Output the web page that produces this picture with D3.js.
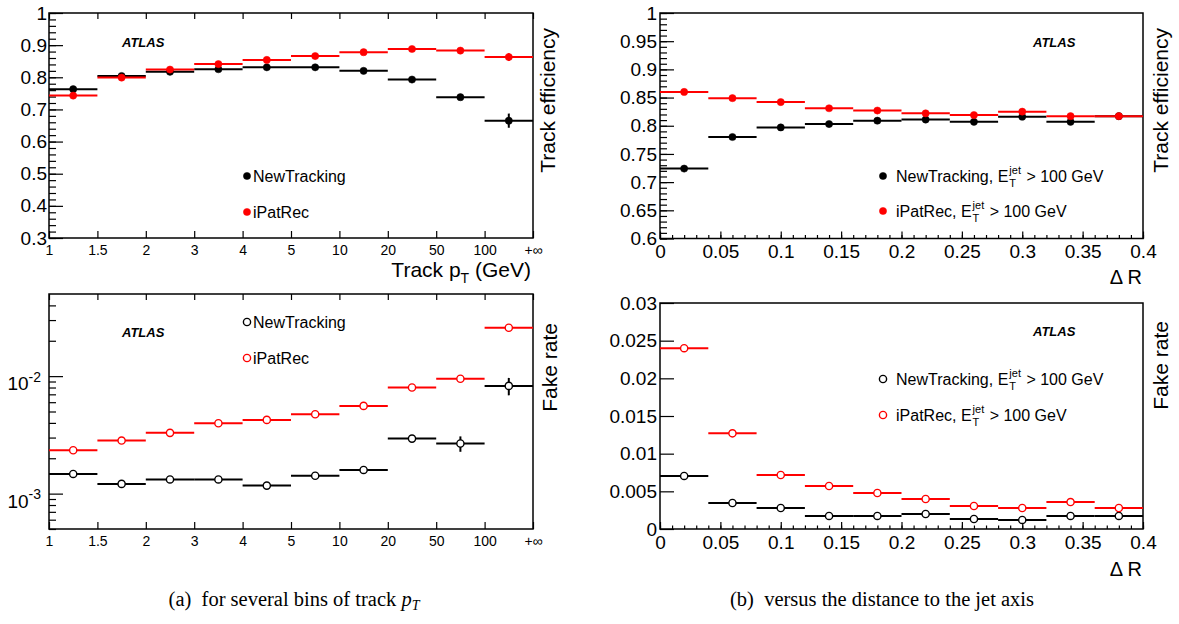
<!DOCTYPE html>
<html><head><meta charset="utf-8">
<script src="https://cdn.jsdelivr.net/npm/d3@7"></script>
<style>
body{margin:0;background:#fff}
svg{display:block}
text{font-family:"Liberation Sans",Arial,Helvetica,sans-serif;fill:#000;white-space:pre}
</style>
</head><body>
<svg id="c" width="1179" height="624"></svg>
<script>
// ---------------- data ----------------
const ptBinEdges = ["1","1.5","2","3","4","5","10","20","50","100","+\u221e"];
const effNewTracking    = [0.763,0.804,0.817,0.825,0.831,0.831,0.820,0.793,0.738,0.665];
const effNewTrackingErr = [0,0,0,0,0,0,0,0,0,0.022];
const effIPatRec        = [0.743,0.799,0.824,0.841,0.854,0.866,0.878,0.888,0.883,0.863];
const effIPatRecErr     = [0,0,0,0,0,0,0,0,0,0.012];
const fakeNewTracking    = [1.47e-3,1.21e-3,1.32e-3,1.32e-3,1.17e-3,1.42e-3,1.59e-3,2.94e-3,2.67e-3,8.26e-3];
const fakeNewTrackingErr = [0,0,0,0,0,0,0,0,0.4e-3,1.4e-3];
const fakeIPatRec        = [2.34e-3,2.83e-3,3.29e-3,3.97e-3,4.24e-3,4.74e-3,5.58e-3,8.0e-3,9.5e-3,2.58e-2];
const fakeIPatRecErr     = [0,0,0,0,0,0,0,0,0,0];

const drBinEdges = [0,0.04,0.08,0.12,0.16,0.2,0.24,0.28,0.32,0.36,0.4];
const drEffNewTracking = [0.724,0.780,0.797,0.803,0.809,0.811,0.807,0.816,0.807,0.817];
const drEffIPatRec     = [0.860,0.849,0.842,0.831,0.827,0.822,0.819,0.825,0.817,0.817];
const drFakeNewTracking = [0.00704,0.00345,0.00279,0.00173,0.00173,0.00199,0.00133,0.00120,0.00173,0.00173];
const drFakeIPatRec     = [0.0240,0.0127,0.00717,0.00571,0.00478,0.00398,0.00305,0.00279,0.00358,0.00279];
const zeros = [0,0,0,0,0,0,0,0,0,0];

const effPtYTicks   = [0.3,0.4,0.5,0.6,0.7,0.8,0.9,1];
const effDrYTicks   = [0.6,0.65,0.7,0.75,0.8,0.85,0.9,0.95,1];
const fakeDrYTicks  = [0,0.005,0.01,0.015,0.02,0.025,0.03];
const fakeLogTicks  = [1e-3,1e-2];
const fakeLogExps   = ["-3","-2"];
const drXTicks      = [0,0.05,0.1,0.15,0.2,0.25,0.3,0.35,0.4];

const seriesNames = ["NewTracking","iPatRec"];
const jetCut = " > 100 GeV";
const captionA = "(a)  for several bins of track ";
const captionB = "(b)  versus the distance to the jet axis";

// ---------------- drawing ----------------
const svg = d3.select("#c");
svg.append("rect").attr("width",1179).attr("height",624).attr("fill","#fff");
const BLACK="#000", RED="#ff0000";

function frame(p){
  svg.append("rect").attr("x",p.x0).attr("y",p.y0).attr("width",p.x1-p.x0).attr("height",p.y1-p.y0)
     .attr("fill","none").attr("stroke","#000").attr("stroke-width",1.5);
}
function styleAxis(a, fs){
  a.select(".domain").remove();
  a.attr("font-family",null).attr("font-size",null);
  a.selectAll("line").attr("stroke","#000").attr("stroke-width",1.2);
  a.selectAll("text").style("font-size",fs+"px");
}
function yAxis(p, scale, major, minor, fmt, pad){
  svg.append("g").attr("transform",`translate(${p.x0},0)`)
    .call(d3.axisLeft(scale).tickValues(minor).tickSize(-7).tickFormat(""))
    .call(a=>styleAxis(a,19));
  svg.append("g").attr("transform",`translate(${p.x0},0)`)
    .call(d3.axisLeft(scale).tickValues(major).tickSize(-14).tickPadding(pad).tickFormat(fmt))
    .call(a=>styleAxis(a,19));
}
function drawSeries(g, x, y, edges, vals, errs, color, filled){
  vals.forEach((v,i)=>{
    const xa=x(edges[i]), xb=x(edges[i+1]), xc=(xa+xb)/2;
    g.append("line").attr("x1",xa).attr("x2",xb).attr("y1",y(v)).attr("y2",y(v))
      .attr("stroke",color).attr("stroke-width",2);
    if(errs[i]>0){
      g.append("line").attr("x1",xc).attr("x2",xc).attr("y1",y(v-errs[i])).attr("y2",y(v+errs[i]))
        .attr("stroke",color).attr("stroke-width",2);
    }
    g.append("circle").attr("cx",xc).attr("cy",y(v)).attr("r",3.6)
      .attr("fill",filled?color:"#fff").attr("stroke",color).attr("stroke-width",filled?0.5:1.4);
  });
}
function atlas(x,y){
  svg.append("text").attr("x",x).attr("y",y).attr("font-size",13).attr("font-weight","bold")
    .attr("font-style","italic").text("ATLAS");
}
function yTitle(x,yTop,str){
  svg.append("text").attr("transform",`translate(${x},${yTop}) rotate(-90)`).attr("text-anchor","end")
    .attr("font-size",21).text(str);
}
function legendSimple(x,y,label,color,filled){
  svg.append("circle").attr("cx",x).attr("cy",y).attr("r",3.6).attr("fill",filled?color:"#fff")
    .attr("stroke",color).attr("stroke-width",filled?0.5:1.4);
  svg.append("text").attr("x",x+6).attr("y",y+6).attr("font-size",16).text(label);
}
function legendJet(x,y,label,color,filled){
  svg.append("circle").attr("cx",x).attr("cy",y).attr("r",3.6).attr("fill",filled?color:"#fff")
    .attr("stroke",color).attr("stroke-width",filled?0.5:1.4);
  const t=svg.append("text").attr("x",x+13).attr("y",y+6).attr("font-size",16).text(label+", E");
  const w=t.node().getComputedTextLength();
  const xs=x+13+w+1;
  const j=svg.append("text").attr("x",xs).attr("y",y-2).attr("font-size",11).text("jet");
  svg.append("text").attr("x",xs).attr("y",y+11).attr("font-size",11).text("T");
  const wj=j.node().getComputedTextLength();
  svg.append("text").attr("x",xs+wj+1).attr("y",y+6).attr("font-size",16).text(jetCut);
}

// ---- panel TL: efficiency vs pT ----
const TL={x0:49,x1:533,y0:13,y1:238};
const xPtTL=d3.scaleLinear().domain([0,10]).range([TL.x0,TL.x1]);
const yEff=d3.scaleLinear().domain([0.3,1]).range([TL.y1,TL.y0]);
const binIdx=d3.range(11);
yAxis(TL,yEff,effPtYTicks,d3.range(30,101,2).map(d=>d/100),d=>String(+d.toFixed(1)),2);
svg.append("g").attr("transform",`translate(0,${TL.y1})`)
  .call(d3.axisBottom(xPtTL).tickValues(binIdx).tickSize(-7).tickPadding(7).tickFormat(i=>ptBinEdges[i]))
  .call(a=>styleAxis(a,14));
svg.append("g").attr("transform",`translate(0,${TL.y0})`)
  .call(d3.axisTop(xPtTL).tickValues(binIdx).tickSize(-6).tickFormat(""))
  .call(a=>styleAxis(a,14));
frame(TL);
const gTL=svg.append("g");
drawSeries(gTL,xPtTL,yEff,binIdx,effNewTracking,effNewTrackingErr,BLACK,true);
drawSeries(gTL,xPtTL,yEff,binIdx,effIPatRec,effIPatRecErr,RED,true);
atlas(122,46.5);
legendSimple(247,176,seriesNames[0],BLACK,true);
legendSimple(247,212,seriesNames[1],RED,true);
yTitle(555,28,"Track efficiency");
{
  const t=svg.append("text").attr("x",531).attr("y",276.5).attr("text-anchor","end").attr("font-size",21);
  t.append("tspan").text("Track p");
  t.append("tspan").attr("font-size",14).attr("dy",6).text("T");
  t.append("tspan").attr("dy",-6).text(" (GeV)");
}

// ---- panel BL: fake rate vs pT ----
const BL={x0:49,x1:533,y0:294,y1:529};
const xPtBL=d3.scaleLinear().domain([0,10]).range([BL.x0,BL.x1]);
const yFakeLog=d3.scaleLog().domain([5e-4,5e-2]).range([BL.y1,BL.y0]);
const logMinor=[5e-4,6e-4,7e-4,8e-4,9e-4,2e-3,3e-3,4e-3,5e-3,6e-3,7e-3,8e-3,9e-3,2e-2,3e-2,4e-2];
svg.append("g").attr("transform",`translate(${BL.x0},0)`)
  .call(d3.axisLeft(yFakeLog).tickValues(logMinor).tickSize(-7).tickFormat(""))
  .call(a=>styleAxis(a,19));
svg.append("g").attr("transform",`translate(${BL.x0},0)`)
  .call(d3.axisLeft(yFakeLog).tickValues(fakeLogTicks).tickSize(-14).tickFormat(""))
  .call(a=>styleAxis(a,19));
fakeLogTicks.forEach((v,i)=>{
  const yy=yFakeLog(v);
  const t=svg.append("text").attr("x",41).attr("y",yy+14).attr("text-anchor","end").attr("font-size",19);
  t.append("tspan").text("10");
  t.append("tspan").attr("font-size",14).attr("dy",-8.5).text(fakeLogExps[i]);
});
svg.append("g").attr("transform",`translate(0,${BL.y1})`)
  .call(d3.axisBottom(xPtBL).tickValues(binIdx).tickSize(-7).tickPadding(7).tickFormat(i=>ptBinEdges[i]))
  .call(a=>styleAxis(a,14));
svg.append("g").attr("transform",`translate(0,${BL.y0})`)
  .call(d3.axisTop(xPtBL).tickValues(binIdx).tickSize(-6).tickFormat(""))
  .call(a=>styleAxis(a,14));
frame(BL);
const gBL=svg.append("g");
drawSeries(gBL,xPtBL,yFakeLog,binIdx,fakeNewTracking,fakeNewTrackingErr,BLACK,false);
drawSeries(gBL,xPtBL,yFakeLog,binIdx,fakeIPatRec,fakeIPatRecErr,RED,false);
atlas(122,336.5);
legendSimple(247,322,seriesNames[0],BLACK,false);
legendSimple(247,358,seriesNames[1],RED,false);
yTitle(557,323,"Fake rate");

// ---- panel TR: efficiency vs dR ----
const TR={x0:660,x1:1143,y0:13,y1:238.5};
const xDrTR=d3.scaleLinear().domain([0,0.4]).range([TR.x0,TR.x1]);
const yEffDr=d3.scaleLinear().domain([0.6,1]).range([TR.y1,TR.y0]);
const drMinor=d3.range(0,41).map(d=>d/100);
yAxis(TR,yEffDr,effDrYTicks,d3.range(60,101).map(d=>d/100),d=>String(+d.toFixed(2)),3);
svg.append("g").attr("transform",`translate(0,${TR.y1})`)
  .call(d3.axisBottom(xDrTR).tickValues(drMinor).tickSize(-3.5).tickFormat(""))
  .call(a=>styleAxis(a,19));
svg.append("g").attr("transform",`translate(0,${TR.y1})`)
  .call(d3.axisBottom(xDrTR).tickValues(drXTicks).tickSize(-7).tickPadding(6).tickFormat(d=>String(+d.toFixed(2))))
  .call(a=>styleAxis(a,19));
frame(TR);
const gTR=svg.append("g");
drawSeries(gTR,xDrTR,yEffDr,drBinEdges,drEffNewTracking,zeros,BLACK,true);
drawSeries(gTR,xDrTR,yEffDr,drBinEdges,drEffIPatRec,zeros,RED,true);
atlas(1033,46.5);
legendJet(883,176,seriesNames[0],BLACK,true);
legendJet(883,211,seriesNames[1],RED,true);
yTitle(1168,28,"Track efficiency");
svg.append("text").attr("x",1142).attr("y",284).attr("text-anchor","end").attr("font-size",20).text("\u0394 R");

// ---- panel BR: fake rate vs dR ----
const BR={x0:660,x1:1143,y0:303,y1:529};
const xDrBR=d3.scaleLinear().domain([0,0.4]).range([BR.x0,BR.x1]);
const yFakeDr=d3.scaleLinear().domain([0,0.03]).range([BR.y1,BR.y0]);
svg.append("g").attr("transform",`translate(${BR.x0},0)`)
  .call(d3.axisLeft(yFakeDr).tickValues(fakeDrYTicks).tickSize(-14).tickPadding(3).tickFormat(d=>String(+d.toFixed(3))))
  .call(a=>styleAxis(a,19));
svg.append("g").attr("transform",`translate(0,${BR.y1})`)
  .call(d3.axisBottom(xDrBR).tickValues(drMinor).tickSize(-3.5).tickFormat(""))
  .call(a=>styleAxis(a,19));
svg.append("g").attr("transform",`translate(0,${BR.y1})`)
  .call(d3.axisBottom(xDrBR).tickValues(drXTicks).tickSize(-7).tickPadding(7).tickFormat(d=>String(+d.toFixed(2))))
  .call(a=>styleAxis(a,19));
frame(BR);
const gBR=svg.append("g");
drawSeries(gBR,xDrBR,yFakeDr,drBinEdges,drFakeNewTracking,zeros,BLACK,false);
drawSeries(gBR,xDrBR,yFakeDr,drBinEdges,drFakeIPatRec,zeros,RED,false);
atlas(1033,336);
legendJet(883,379,seriesNames[0],BLACK,false);
legendJet(883,415,seriesNames[1],RED,false);
yTitle(1168,321,"Fake rate");
svg.append("text").attr("x",1142).attr("y",576).attr("text-anchor","end").attr("font-size",20).text("\u0394 R");

// ---- captions ----
{
  const serif="'Liberation Serif','Times New Roman',serif";
  const t=svg.append("text").attr("x",294).attr("y",606).attr("text-anchor","middle")
    .style("font-family",serif).attr("font-size",20.5);
  t.append("tspan").text(captionA);
  t.append("tspan").attr("font-style","italic").text("p");
  t.append("tspan").attr("font-style","italic").attr("font-size",14).attr("dy",4).text("T");
  svg.append("text").attr("x",882).attr("y",606).attr("text-anchor","middle")
    .style("font-family",serif).attr("font-size",20.5).text(captionB);
}
</script>
</body></html>
